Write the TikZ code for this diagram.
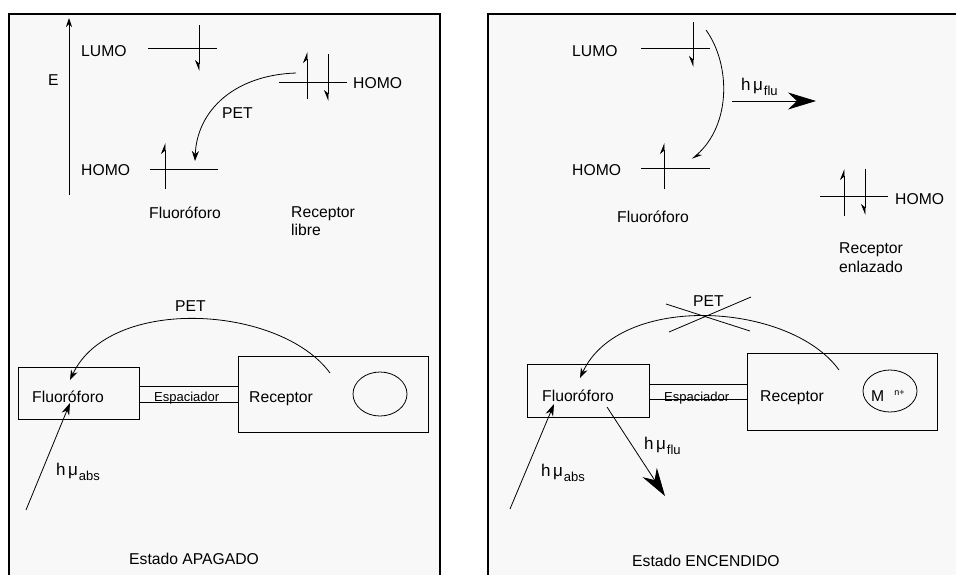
\documentclass[tikz,border=0pt]{standalone}
\usepackage{fontspec}
\setmainfont{Liberation Sans}
\usetikzlibrary{arrows.meta}
\definecolor{panelbg}{HTML}{F8F8F8}
\begin{document}
\begin{tikzpicture}[x=1pt,y=-1pt,
  panel/.style={draw=black, line width=1.8pt, fill=panelbg},
  ln/.style={line width=0.8pt},
  txt/.style={anchor=base west, inner sep=0pt, font=\fontsize{15.7}{18}\selectfont},
  smalltxt/.style={anchor=base west, inner sep=0pt, font=\fontsize{13}{15}\selectfont},
  hv/.style={anchor=base west, inner sep=0pt, font=\fontsize{17}{20}\selectfont},
  eup/.style={ln, -{Stealth[harpoon,length=10pt,width=8pt]}},
  edown/.style={ln, -{Stealth[harpoon,swap,length=10pt,width=8pt]}},
  axis/.style={ln, -{Stealth[length=9pt,width=6pt]}},
  pet/.style={ln, -{Stealth[length=10pt,width=7pt]}},
  bigarrow/.style={ln, -{Stealth[length=28pt,width=17pt,inset=9pt]}},
  medarrow/.style={ln, -{Stealth[length=12pt,width=8pt]}}
]
\useasboundingbox (0,0) rectangle (956,574);
\clip (0,0) rectangle (956,574);
\fill[white] (0,0) rectangle (956,574);

% panels
\draw[panel] (9,14) rectangle (440,590);
\draw[panel] (488,14) rectangle (980,590);

% ================= Panel 1 top =================
\coordinate (eb) at (69,195);
\coordinate (et) at (69,18);
\draw[axis] (eb) -- (et);
\node[txt] (E) at (48,85.5) {E};
\node[txt] (lumo1) at (81,56) {LUMO};
\node[txt] (homo1) at (81,175.5) {HOMO};
\draw[ln] (148,48) -- (217,48);
\draw[edown] (199,25) -- (199,71);
\draw[ln] (150,169) -- (218,169);
\draw[eup] (165,189) -- (165,143);
\node[txt] (fluo1) at (149,218.5) {Fluoróforo};
\draw[ln] (279,82) -- (347,82);
\draw[eup] (307,99) -- (307,52);
\draw[edown] (328,54) -- (328,101);
\node[txt] (rhomo1) at (353,88.5) {HOMO};
\node[txt] (rec1) at (291,217) {Receptor};
\node[txt] (libre) at (291,235) {libre};
\coordinate (p1s) at (296,73);
\coordinate (p1e) at (195,161);
\draw[pet] (p1s) .. controls (235,75) and (197,110) .. (p1e);
\node[txt] (pet1) at (222,118.5) {PET};

% ================= Panel 1 bottom =================
\draw[ln] (18,367) rectangle (139,419);
\node[txt] (fbox1) at (32,402.5) {Fluoróforo};
\draw[ln] (139,386) -- (238,386);
\draw[ln] (139,402) -- (238,402);
\node[smalltxt] (esp1) at (154,401.7) {Espaciador};
\draw[ln] (238,356) rectangle (428,432);
\node[txt] (rbox1) at (249,402.5) {Receptor};
\draw[ln] (380,394) ellipse [x radius=27pt, y radius=22pt];
\coordinate (b1s) at (330,373);
\coordinate (b1e) at (70,380);
\draw[pet] (b1s) .. controls (280,305) and (110,295) .. (b1e);
\node[txt] (pet2) at (175,311.5) {PET};
\coordinate (a1s) at (26,510);
\coordinate (a1e) at (70,403);
\draw[medarrow] (a1s) -- (a1e);
\node[hv] (habs1) at (56,475.5) {h\hspace{2.5pt}μ\hspace{1pt}\raisebox{-5pt}{\fontsize{13}{15}\selectfont abs}};
\node[txt] (apagado) at (129,564.5) {Estado APAGADO};

% ================= Panel 2 top =================
\node[txt] (lumo2) at (572,56.5) {LUMO};
\node[txt] (homo2) at (572,175.5) {HOMO};
\draw[ln] (641,48) -- (710,48);
\draw[edown] (693,22) -- (693,67);
\draw[ln] (641,168) -- (710,168);
\draw[eup] (664,189) -- (664,143);
\node[txt] (fluo2) at (617,222.5) {Fluoróforo};
\coordinate (c2s) at (706,30);
\coordinate (c2e) at (692,159);
\draw[ln, -{Stealth[harpoon,length=9pt,width=7pt]}] (c2s) .. controls (731,65) and (731,125) .. (c2e);
\coordinate (f2s) at (732,101);
\coordinate (f2e) at (816,101);
\draw[bigarrow] (f2s) -- (f2e);
\node[hv] (hflu1) at (741,90.5) {h\hspace{2.5pt}μ\hspace{1pt}\raisebox{-5pt}{\fontsize{13}{15}\selectfont flu}};
\draw[ln] (820,196) -- (888,196);
\draw[eup] (844,216) -- (844,169);
\draw[edown] (865,169) -- (865,215);
\node[txt] (rhomo2) at (895,204.5) {HOMO};
\node[txt] (rec2) at (839,253.5) {Receptor};
\node[txt] (enl) at (839,272) {enlazado};

% ================= Panel 2 bottom =================
\draw[ln] (527,364) rectangle (649,417);
\node[txt] (fbox2) at (542,401.5) {Fluoróforo};
\draw[ln] (649,384) -- (747,384);
\draw[ln] (649,399) -- (747,399);
\node[smalltxt] (esp2) at (664,401) {Espaciador};
\draw[ln] (747,353) rectangle (937,430);
\node[txt] (rbox2) at (760,401.5) {Receptor};
\draw[ln] (890,391) ellipse [x radius=27pt, y radius=21pt];
\node[txt] (metal) at (871,401.5) {M\hspace{10pt}\raisebox{6pt}{\fontsize{9}{10}\selectfont n+}};
\coordinate (b2s) at (839,370);
\coordinate (b2e) at (580,378);
\draw[pet] (b2s) .. controls (790,302) and (620,292) .. (b2e);
\node[txt] (pet3) at (693,306.5) {PET};
\draw[ln] (666,304) -- (750,331);
\draw[ln] (751,297) -- (669,332);
\coordinate (a2s) at (510,509);
\coordinate (a2e) at (554,404);
\draw[medarrow] (a2s) -- (a2e);
\node[hv] (habs2) at (541,476.5) {h\hspace{2.5pt}μ\hspace{1pt}\raisebox{-5pt}{\fontsize{13}{15}\selectfont abs}};
\coordinate (f3s) at (607,407);
\coordinate (f3e) at (665,496);
\draw[bigarrow] (f3s) -- (f3e);
\node[hv] (hflu2) at (644,449.5) {h\hspace{2.5pt}μ\hspace{1pt}\raisebox{-5pt}{\fontsize{13}{15}\selectfont flu}};
\node[txt] (encendido) at (632,566.5) {Estado ENCENDIDO};
\end{tikzpicture}
\end{document}
